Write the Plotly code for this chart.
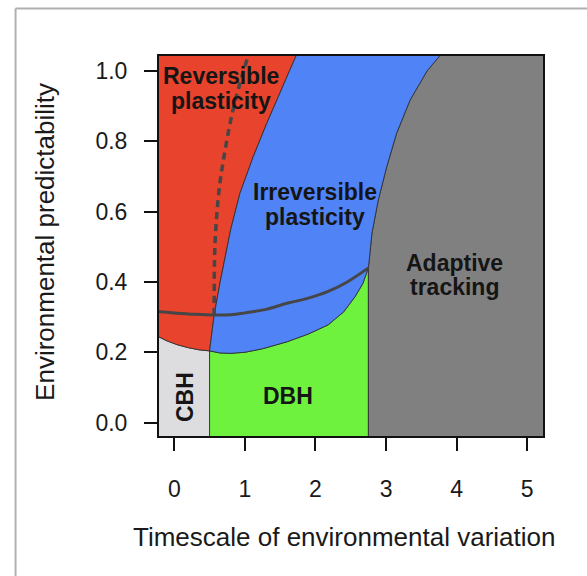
import plotly.graph_objects as go

# ---- data ----
x_ticks = [0, 1, 2, 3, 4, 5]
x_tick_labels = ["0", "1", "2", "3", "4", "5"]
y_ticks = [0.0, 0.2, 0.4, 0.6, 0.8, 1.0]
y_tick_labels = ["0.0", "0.2", "0.4", "0.6", "0.8", "1.0"]

x_min, x_max = -0.231, 5.238
y_min, y_max = -0.041, 1.0455

# CBH / red boundary (top of CBH)
cbh_top_x = [-0.231, -0.10, 0.05, 0.20, 0.35, 0.50]
cbh_top_y = [0.245, 0.232, 0.221, 0.213, 0.207, 0.204]

# red / blue boundary
red_blue_x = [0.50, 0.53, 0.565, 0.65, 0.74, 0.80, 0.93, 1.12, 1.31, 1.50, 1.73]
red_blue_y = [0.204, 0.255, 0.306, 0.40, 0.49, 0.55, 0.652, 0.757, 0.851, 0.937, 1.0455]

# bottom of blue region (top of DBH)
blue_bottom_x = [0.50, 0.65, 0.80, 1.00, 1.25, 1.60, 1.90, 2.18, 2.40, 2.56, 2.67, 2.75]
blue_bottom_y = [0.204, 0.198, 0.197, 0.200, 0.210, 0.230, 0.252, 0.278, 0.315, 0.358, 0.395, 0.44]

# vertical boundaries CBH|DBH and DBH|adaptive tracking
cbh_dbh_x = 0.50
dbh_at_x = 2.75

# adaptive tracking boundary
gray_x = [2.75, 2.80, 2.89, 3.01, 3.15, 3.34, 3.58, 3.77]
gray_y = [0.44, 0.539, 0.633, 0.728, 0.823, 0.917, 1.0, 1.0455]

# solid curve
solid_x = [-0.231, 0.0, 0.30, 0.55, 0.80, 1.00, 1.30, 1.61, 1.90, 2.18, 2.45, 2.75]
solid_y = [0.316, 0.312, 0.308, 0.306, 0.307, 0.312, 0.322, 0.340, 0.354, 0.373, 0.400, 0.44]

# dashed curve
dash_x = [0.565, 0.567, 0.575, 0.60, 0.645, 0.72, 0.81, 0.93, 1.05]
dash_y = [0.306, 0.42, 0.50, 0.586, 0.68, 0.775, 0.87, 0.965, 1.0455]

region_labels = [
    ("Reversible", 0.667, 0.985, 0),
    ("plasticity", 0.667, 0.915, 0),
    ("Irreversible", 1.99, 0.655, 0),
    ("plasticity", 1.99, 0.585, 0),
    ("Adaptive", 3.965, 0.455, 0),
    ("tracking", 3.965, 0.385, 0),
    ("DBH", 1.614, 0.075, 0),
    ("CBH", 0.149, 0.072, -90),
]

RED = "#E8432D"
BLUE = "#5083F5"
GREEN = "#6EF23E"
GRAY = "#808080"
LGRAY = "#DDDDDF"
EDGE = "rgba(45,45,45,0.85)"
CURVE = "#464646"
FONT = "Liberation Sans, Arial, Helvetica, sans-serif"

fig = go.Figure()


def poly(xs, ys, color):
    fig.add_trace(go.Scatter(
        x=xs, y=ys, mode="lines", fill="toself", fillcolor=color,
        line=dict(color=EDGE, width=1), hoverinfo="skip", showlegend=False))


lo = y_min - 0.05
# CBH (light gray)
poly([x_min - 0.05] + cbh_top_x + [cbh_dbh_x, x_min - 0.05],
     [cbh_top_y[0]] + cbh_top_y + [lo, lo], LGRAY)
# DBH (green)
poly([cbh_dbh_x] + blue_bottom_x + [dbh_at_x, cbh_dbh_x],
     [lo] + blue_bottom_y + [lo, lo], GREEN)
# Adaptive tracking (gray)
poly([dbh_at_x] + gray_x + [x_max + 0.1, x_max + 0.1, dbh_at_x],
     [lo] + gray_y + [gray_y[-1], lo, lo], GRAY)
# Reversible plasticity (red)
poly([x_min - 0.05] + cbh_top_x + red_blue_x + [x_min - 0.05],
     [cbh_top_y[0]] + cbh_top_y + red_blue_y + [red_blue_y[-1]], RED)
# Irreversible plasticity (blue)
poly(red_blue_x + gray_x[::-1] + blue_bottom_x[::-1],
     red_blue_y + gray_y[::-1] + blue_bottom_y[::-1], BLUE)

fig.add_trace(go.Scatter(x=solid_x, y=solid_y, mode="lines",
                         line=dict(color=CURVE, width=3, shape="spline"),
                         hoverinfo="skip", showlegend=False))
fig.add_trace(go.Scatter(x=dash_x, y=dash_y, mode="lines",
                         line=dict(color=CURVE, width=3.5, dash="7px,5px", shape="spline"),
                         hoverinfo="skip", showlegend=False))

for text, x, y, ang in region_labels:
    fig.add_annotation(x=x, y=y, text=f"<b>{text}</b>", showarrow=False,
                       textangle=ang, font=dict(family=FONT, size=23, color="#151515"),
                       xanchor="center", yanchor="middle")

# axis titles
fig.add_annotation(xref="paper", yref="paper", x=0.482, y=-0.261,
                   text="Timescale of environmental variation", showarrow=False,
                   font=dict(family=FONT, size=26, color="#1a1a1a"),
                   xanchor="center", yanchor="middle")
fig.add_annotation(xref="paper", yref="paper", x=-0.2935, y=0.51,
                   text="Environmental predictability", showarrow=False, textangle=-90,
                   font=dict(family=FONT, size=26, color="#1a1a1a"),
                   xanchor="center", yanchor="middle")

# plot box
fig.add_shape(type="rect", xref="paper", yref="paper", x0=0, y0=0, x1=1, y1=1,
              line=dict(color="#111111", width=2), layer="above")
# outer light frame (left and top edges)
fig.add_shape(type="line", xref="paper", yref="paper", x0=-0.369, y0=-0.4, x1=-0.369, y1=1.122,
              line=dict(color="#b0b0b0", width=2), layer="above")
fig.add_shape(type="line", xref="paper", yref="paper", x0=-0.369, y0=1.122, x1=1.2, y1=1.122,
              line=dict(color="#b0b0b0", width=2), layer="above")

fig.update_xaxes(range=[x_min, x_max], tickvals=x_ticks, ticktext=x_tick_labels,
                 ticks="outside", ticklen=13, tickwidth=2, tickcolor="#111",
                 showgrid=False, zeroline=False, showline=False,
                 ticklabelstandoff=18,
                 tickfont=dict(family=FONT, size=23, color="#1a1a1a"))
fig.update_yaxes(range=[y_min, y_max], tickvals=y_ticks, ticktext=y_tick_labels,
                 ticks="outside", ticklen=13, tickwidth=2, tickcolor="#111",
                 showgrid=False, zeroline=False, showline=False,
                 ticklabelstandoff=12,
                 tickfont=dict(family=FONT, size=23, color="#1a1a1a"))

fig.update_layout(width=587, height=576,
                  margin=dict(l=158, r=43, t=55, b=139),
                  paper_bgcolor="white", plot_bgcolor="white",
                  showlegend=False)

fig.write_html("out.html", config={"displayModeBar": False},
               post_script="document.body.style.margin='0';")
